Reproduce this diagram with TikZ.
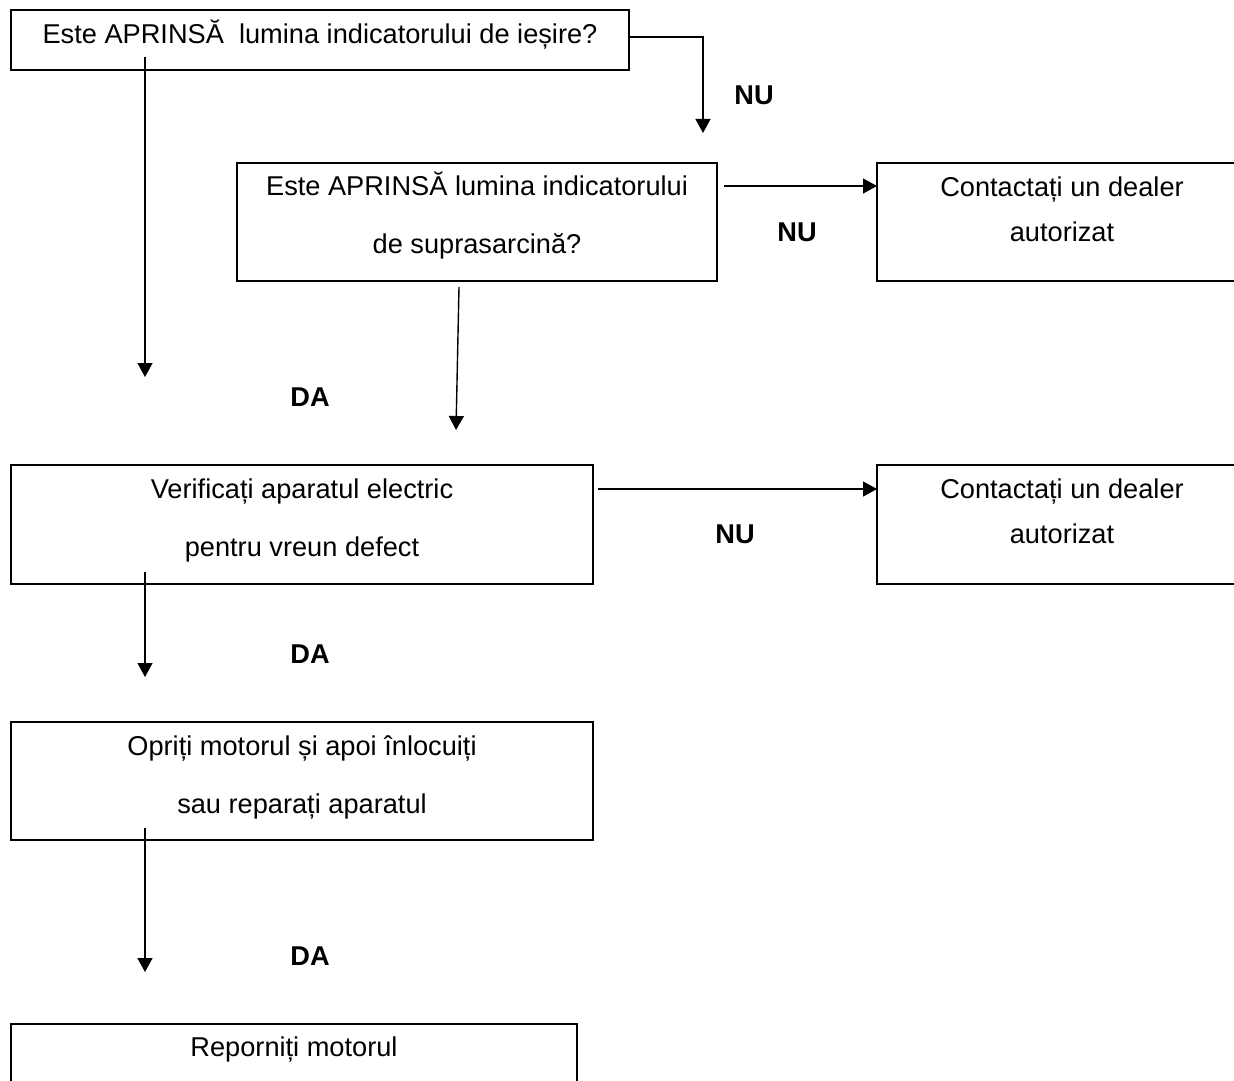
\documentclass[tikz,border=0pt]{standalone}
\usepackage{fontspec}
\setmainfont{Liberation Sans}
\usetikzlibrary{positioning,arrows.meta}
\tikzset{
  cutie/.style    = {draw, line width=1pt, inner sep=0pt, outer sep=0pt},
  textcutie/.style = {align=center, inner sep=0pt, font=\fontsize{13.6}{16}\selectfont},
  raspuns/.style  = {inner sep=0pt, font=\fontsize{13.6}{16}\selectfont\bfseries},
  sageata/.style  = {-{Triangle[length=7pt,width=7.5pt]}, line width=0.7pt}
}
\begin{document}
\begin{tikzpicture}[x=0.5pt,y=-0.5pt]
    \useasboundingbox (0,0) rectangle (1234,1080);
    % cutii
    \node[cutie, minimum width=309pt, minimum height=30pt] (q1) at (320,40) {};
    \node[cutie, minimum width=240pt, minimum height=59pt] (q2) at (477,222) {};
    \node[cutie, minimum width=185pt, minimum height=59pt] (r1) at (1062,222) {};
    \node[cutie, minimum width=291pt, minimum height=59.5pt] (q3) at (302,524.5) {};
    \node[cutie, minimum width=185pt, minimum height=59.5pt] (r2) at (1062,524.5) {};
    \node[cutie, minimum width=291pt, minimum height=59pt] (q4) at (302,781) {};
    \node[cutie, minimum width=283pt, minimum height=43pt] (q5) at (294,1067) {};

    % texte
    \node[textcutie] (t1) at (320,35) {Este APRINSĂ\ \ lumina indicatorului de ieșire?};
    \node[textcutie] (t2) at (477,216) {Este APRINSĂ lumina indicatorului\\[13pt] de suprasarcină?};
    \node[textcutie] (t3) at (1062,209.5) {Contactați un dealer\\[6.5pt] autorizat};
    \node[textcutie] (t4) at (302,520.5) {Verificați aparatul electric\\[13pt] pentru vreun defect};
    \node[textcutie] (t5) at (1062,511.5) {Contactați un dealer\\[6.5pt] autorizat};
    \node[textcutie] (t6) at (302,777.5) {Opriți motorul și apoi înlocuiți\\[13pt] sau reparați aparatul};
    \node[textcutie] (t7) at (294,1050) {Reporniți motorul};

    % raspunsuri
    \node[raspuns] (nu1) at (754,95) {NU};
    \node[raspuns] (nu2) at (797,232) {NU};
    \node[raspuns] (nu3) at (735,534) {NU};
    \node[raspuns] (da1) at (310,397) {DA};
    \node[raspuns] (da2) at (310,654) {DA};
    \node[raspuns] (da3) at (310,956) {DA};

    % capete libere
    \coordinate (s1) at (145,57);
    \coordinate (v1) at (145,377);
    \coordinate (v2) at (703,133);
    \coordinate (s2) at (724,186);
    \coordinate (s3) at (459,287);
    \coordinate (v3) at (456,430);
    \coordinate (s4) at (598,489);
    \coordinate (s5) at (145,572);
    \coordinate (v5) at (145,677);
    \coordinate (s6) at (145,828);
    \coordinate (v6) at (145,972);

    \draw[sageata] (s1) -- (v1);
    \draw[sageata] ([yshift=1.5pt]q1.east) -| (v2);
    \draw[sageata] (s2) -- (s2 -| r1.west);
    \draw[sageata] (s3) -- (v3);
    \draw[sageata] (s4) -- (s4 -| r2.west);
    \draw[sageata] (s5) -- (v5);
    \draw[sageata] (s6) -- (v6);
\end{tikzpicture}
\end{document}
